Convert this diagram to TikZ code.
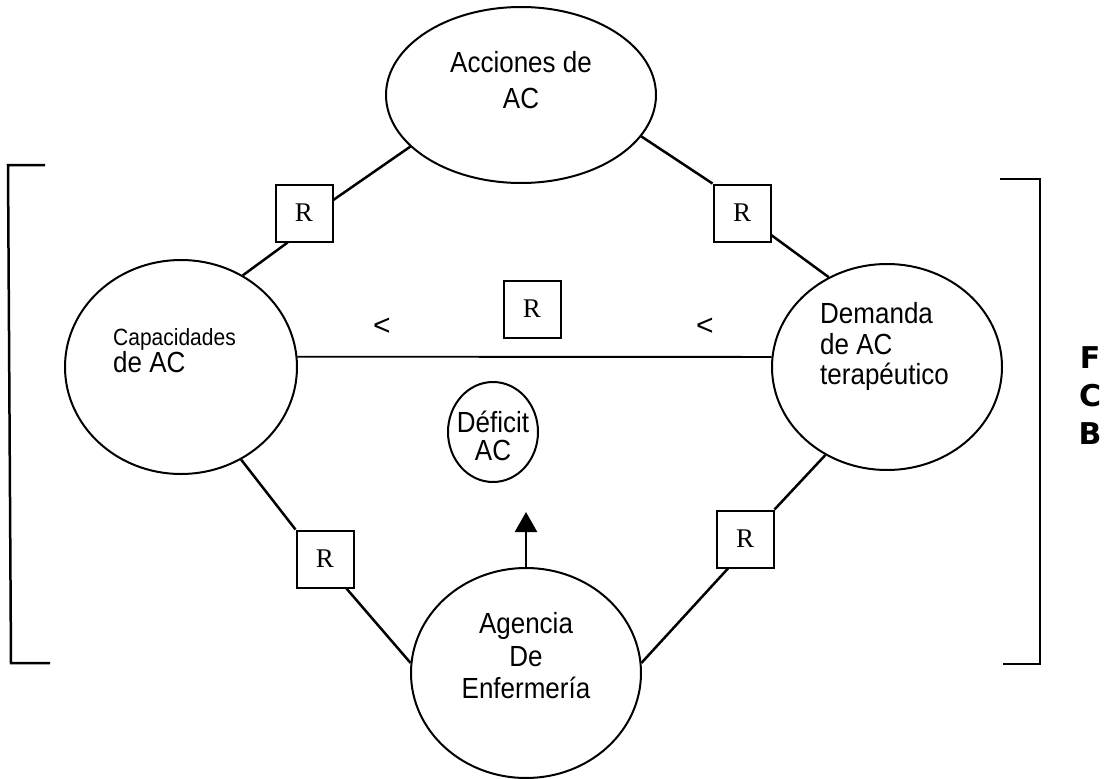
\documentclass[tikz,border=0pt]{standalone}
\usepackage{fontspec}
\setmainfont{Liberation Sans}
\newfontfamily\rfont{Liberation Serif}
\newfontfamily\fcbfont{DejaVu Sans}
\usetikzlibrary{shapes.geometric,arrows.meta}
\newcommand{\tallt}[1]{\scalebox{1}[1.12]{#1}}
\tikzset{
  circ/.style={draw, ellipse, line width=2pt, inner sep=0pt},
  rbox/.style={draw, rectangle, line width=2pt, minimum size=57pt, inner sep=0pt, font=\rfont\fontsize{27}{27}\selectfont},
  conn/.style={line width=2.5pt},
  brk/.style={line width=2.5pt},
  lbl/.style={inner sep=0pt, font=\fontsize{26}{30}\selectfont},
  smalllbl/.style={inner sep=0pt, font=\fontsize{21}{24}\selectfont},
  fcbl/.style={inner sep=0pt, font=\fcbfont\bfseries\fontsize{30}{30}\selectfont},
}
\begin{document}
\begin{tikzpicture}[x=1pt,y=-1pt]
\useasboundingbox (0,0) rectangle (1112,779);
% ellipses
\node[circ, minimum width=270pt, minimum height=176pt] (acc) at (521,95) {};
\node[circ, minimum width=232pt, minimum height=214pt] (cap) at (181,367) {};
\node[circ, minimum width=230pt, minimum height=206pt] (dem) at (887,367) {};
\node[circ, minimum width=230pt, minimum height=210pt] (age) at (526,673) {};
\node[circ, minimum width=90pt, minimum height=100pt] (def) at (493,432) {};
% R boxes
\node[rbox] (rTL) at (304,213) {R};
\node[rbox] (rTR) at (742,213) {R};
\node[rbox] (rM) at (532,309) {R};
\node[rbox] (rBL) at (325,559) {R};
\node[rbox] (rBR) at (745,539) {R};
% connectors
\draw[conn] (acc.205.8) -- (rTL.24);
\draw[conn] (rTL.241) -- (cap.56);
\draw[conn] (acc.341) -- (rTR.north west);
\draw[conn] (rTR.323) -- (dem.123.4);
\draw[conn] (cap.303.4) -- (rBL.north west);
\draw[conn] (rBL.306.6) -- (age.175);
\draw[conn] (age.5) -- (rBR.240);
\draw[conn] (rBR.north east) -- (dem.235.2);
\draw[line width=1.8pt] (cap.5) -- (dem.175);
\coordinate (tip) at (526,512);
\draw[conn, -{Triangle[length=20pt,width=22pt]}] (age.north) -- (tip);
% texts
\node[lbl, anchor=base] (t1a) at (521,72) {\tallt{Acciones de}};
\node[lbl, anchor=base] (t1b) at (521,108) {\tallt{AC}};
\node[smalllbl, anchor=base west] (t2a) at (113,345) {\tallt{Capacidades}};
\node[lbl, anchor=base west] (t2b) at (113,372) {\tallt{de AC}};
\node[lbl, anchor=base west] (t3a) at (820,323) {\tallt{Demanda}};
\node[lbl, anchor=base west] (t3b) at (820,354) {\tallt{de AC}};
\node[lbl, anchor=base west] (t3c) at (820,384) {\tallt{terapéutico}};
\node[lbl, anchor=base] (t4a) at (526,633) {\tallt{Agencia}};
\node[lbl, anchor=base] (t4b) at (526,666) {\tallt{De}};
\node[lbl, anchor=base] (t4c) at (526,698) {\tallt{Enfermería}};
\node[lbl, anchor=base] (t5a) at (493,432) {\tallt{Déficit}};
\node[lbl, anchor=base] (t5b) at (493,460) {\tallt{AC}};
\node[lbl, font=\fontsize{30}{30}\selectfont] (lt1) at (382,327) {<};
\node[lbl, font=\fontsize{30}{30}\selectfont] (lt2) at (705,327) {<};
% brackets
\coordinate (lb1) at (45,165);
\coordinate (lb2) at (8,165);
\coordinate (lb3) at (11,663);
\coordinate (lb4) at (50,663);
\draw[brk] (lb1) -- (lb2) -- (lb3) -- (lb4);
\coordinate (rb1) at (1000,179);
\coordinate (rb2) at (1040,179);
\coordinate (rb3) at (1040,664);
\coordinate (rb4) at (1003,664);
\draw[brk] (rb1) -- (rb2) -- (rb3) -- (rb4);
% FCB
\node[fcbl] (f) at (1090,358) {F};
\node[fcbl] (c) at (1090,396) {C};
\node[fcbl] (b) at (1090,434) {B};
\end{tikzpicture}
\end{document}
